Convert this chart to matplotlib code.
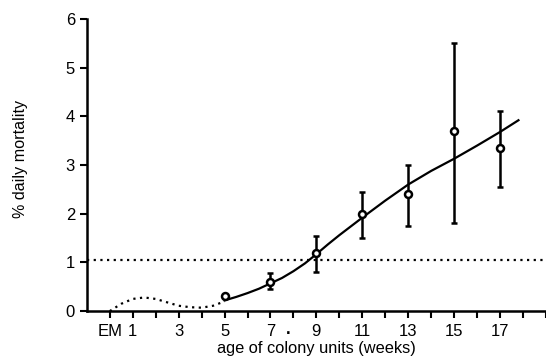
import numpy as np
import matplotlib.pyplot as plt

plt.rcParams['font.family'] = ['Liberation Sans', 'DejaVu Sans']

# observed mortality (weeks, % daily)
weeks = [5, 7, 9, 11, 13, 15, 17]
mortality = [0.3, 0.6, 1.2, 2.0, 2.4, 3.7, 3.35]
err_low = [0.3, 0.45, 0.8, 1.5, 1.75, 1.8, 2.55]
err_high = [0.3, 0.78, 1.55, 2.45, 3.0, 5.5, 4.1]

# fitted curve
fit_x = [5, 5.5, 6, 6.5, 7, 7.5, 8, 8.5, 9, 9.5, 10, 11, 12, 13, 14, 15, 16, 17, 17.8]
fit_y = [0.22, 0.29, 0.37, 0.46, 0.57, 0.68, 0.82, 0.98, 1.17, 1.37, 1.56, 1.92,
         2.27, 2.6, 2.88, 3.13, 3.4, 3.68, 3.92]

# early (dotted) curve
early_x = [0, 0.5, 1, 1.5, 2, 2.5, 3, 3.5, 4, 4.5, 5]
early_y = [0.0, 0.15, 0.25, 0.28, 0.25, 0.18, 0.11, 0.08, 0.07, 0.11, 0.2]

reference_level = 1.05

tick_pos = list(range(0, 20))
tick_lab = ['EM'] + [str(t) if t % 2 == 1 and t <= 17 else '' for t in range(1, 20)]

fig = plt.figure(figsize=(5.46, 3.58), dpi=100)
ax = fig.add_axes([0.159, 0.131, 0.841, 0.816])

lo = np.array(mortality) - np.array(err_low)
hi = np.array(err_high) - np.array(mortality)
ax.errorbar(weeks, mortality, yerr=[lo, hi], fmt='o', color='black',
            mfc='white', mec='black', mew=1.8, ms=5, elinewidth=1.8,
            capsize=2.5, capthick=1.5, zorder=3)
ax.plot(fit_x, fit_y, color='black', lw=1.6)
ax.plot(early_x, early_y, color='black', lw=1.6, ls=(0, (1, 2)))
ax.axhline(reference_level, color='black', lw=1.6, ls=(0, (1, 2)))
ax.annotate('.', xy=(7.75, 0), xycoords='data', xytext=(0, -8),
            textcoords='offset points', ha='center', va='top',
            fontsize=12, fontweight='bold', annotation_clip=False)

ax.set_xlim(-1, 19)
ax.set_ylim(0, 6)
ax.set_xticks(tick_pos)
ax.set_xticklabels(tick_lab)
ax.set_yticks(range(0, 7))
ax.spines['top'].set_visible(False)
ax.spines['right'].set_visible(False)
ax.spines['left'].set_linewidth(1.8)
ax.spines['bottom'].set_linewidth(1.8)
ax.tick_params(axis='both', direction='out', length=5, width=1.5,
               labelsize=12)
ax.tick_params(axis='x', pad=4)
ax.set_xlabel('age of colony units (weeks)', fontsize=11.8, labelpad=2)
ax.set_ylabel('% daily mortality', fontsize=11.6)
ax.yaxis.set_label_coords(-0.128, 0.52)

fig.savefig('out.png', dpi=100)
